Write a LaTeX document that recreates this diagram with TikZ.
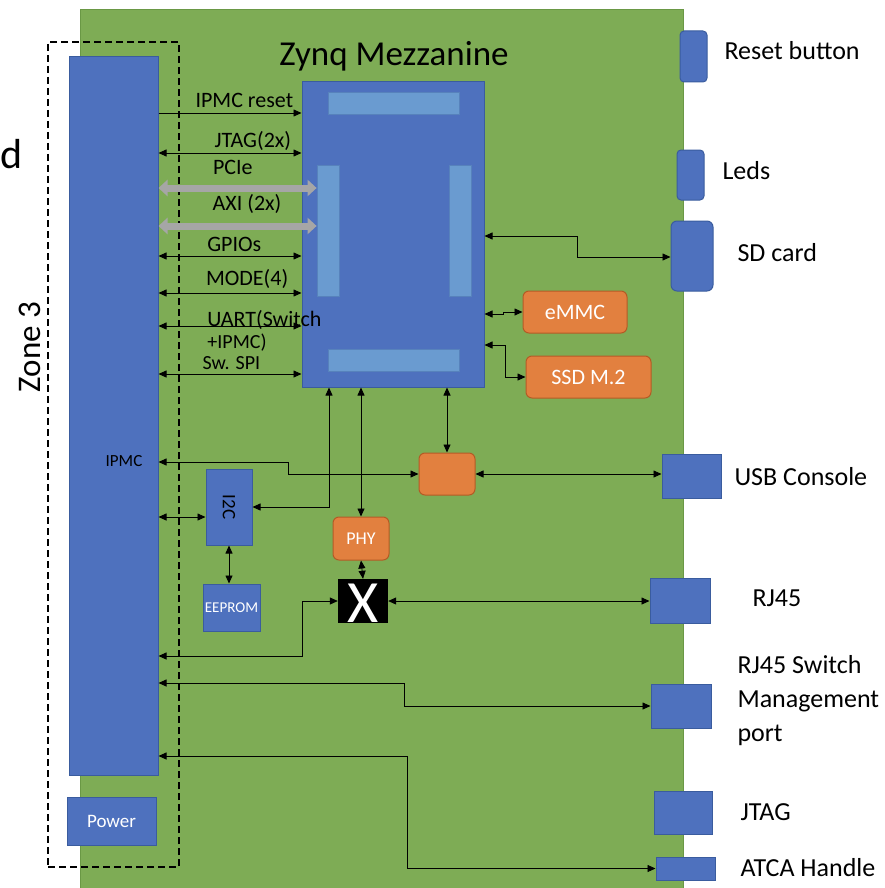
\documentclass[tikz,border=0pt]{standalone}
\usepackage{fontspec}
\setmainfont{Carlito}
\usetikzlibrary{arrows.meta,positioning,fit}
\definecolor{BoardGreen}{HTML}{7EAC55}
\definecolor{BoardEdge}{HTML}{6A9845}
\definecolor{BlockBlue}{HTML}{4E71BE}
\definecolor{BlockEdge}{HTML}{3A5C9E}
\definecolor{BankBlue}{HTML}{6A9BD0}
\definecolor{ChipOrange}{HTML}{E2803F}
\definecolor{ChipEdge}{HTML}{B45B25}
\definecolor{BusGray}{HTML}{A6A6A6}

\begin{document}
\begin{tikzpicture}[
  x=1pt,
  y=-1pt,
  font=\fontsize{22}{24}\selectfont,
  blk/.style={draw=BlockEdge, fill=BlockBlue, line width=1pt, inner sep=0pt},
  bank/.style={draw=BlockEdge!40!BankBlue, fill=BankBlue, line width=0.8pt, inner sep=0pt},
  chip/.style={draw=ChipEdge, fill=ChipOrange, line width=1pt, rounded corners=6pt, inner sep=0pt},
  portlbl/.style={anchor=west, font=\fontsize{26}{34}\selectfont, align=left},
  siglbl/.style={inner sep=0pt, text depth=0pt},
  sig/.style={{Triangle[length=8pt,width=7pt]}-{Triangle[length=8pt,width=7pt]}, line width=0.8pt},
  sigin/.style={-{Triangle[length=8pt,width=7pt]}, line width=0.8pt},
  bus/.style={{Triangle[length=9pt,width=16pt]}-{Triangle[length=9pt,width=16pt]}, line width=7pt, BusGray}
]
\useasboundingbox (0,0) rectangle (884,888);

% board and zone 3
\node[fill=BoardGreen, draw=BoardEdge, line width=1pt, inner sep=0pt, fit={(80,10) (683,895)}] (board) {};
\node[draw, dash pattern=on 7pt off 4pt, line width=1.2pt, inner sep=0pt, fit={(48,42) (179,867)}] (zone) {};
\node[rotate=90, font=\fontsize{33}{36}\selectfont] (zonelbl) at (30,347) {Zone 3};
\node[font=\fontsize{42}{44}\selectfont] (cutlbl) at (12,154) {d};

% IPMC side
\node[blk, fit={(69,57) (158,775)}] (ipmc) {};
\node[font=\fontsize{17}{20}\selectfont] (ipmclbl) at (124,461) {IPMC};
\node[blk, fit={(67,797) (156,845)}] (power) {};
\node[text=white, font=\fontsize{19}{22}\selectfont] (powerlbl) at (power) {Power};
\node[blk, fit={(206,469) (252,545)}] (i2c) {};
\node[rotate=-90, font=\fontsize{19}{22}\selectfont] (i2clbl) at (i2c) {I2C};
\node[blk, fit={(203,584) (260,631)}] (eeprom) {};
\node[text=white, font=\fontsize{15}{18}\selectfont] (eepromlbl) at (eeprom) {EEPROM};

% Zynq mezzanine
\node[font=\fontsize{35}{40}\selectfont] (title) at (394,56) {Zynq Mezzanine};
\node[blk, fit={(302,82) (484,387)}] (zynq) {};
\node[bank, fit={(328,92) (459,114)}] (banktop) {};
\node[bank, fit={(328,349) (459,371)}] (bankbot) {};
\node[bank, fit={(317,165) (339,296)}] (bankl) {};
\node[bank, fit={(449,165) (471,296)}] (bankr) {};

\node[chip, fit={(523,291) (627,333)}] (emmc) {};
\node[text=white] (emmclbl) at (emmc) {eMMC};
\node[chip, fit={(526,356) (651,398)}] (ssd) {};
\node[text=white] (ssdlbl) at (ssd) {SSD M.2};
\node[chip, fit={(419,453) (475,495)}] (bridge) {};
\node[chip, fit={(333,517) (389,560)}] (phy) {};
\node[text=white, font=\fontsize{18}{20}\selectfont] (phylbl) at (phy) {PHY};
\node[fill=black, inner sep=0pt, fit={(338,579) (388,623)}] (xsw) {};
\node[text=white, font=\fontsize{60}{60}\selectfont, inner sep=0pt] (xswlbl) at ([yshift=-2pt]xsw.center) {X};

% front panel
\node[blk, rounded corners=4pt, fit={(680,31) (707,82)}] (reset) {};
\node[blk, rounded corners=4pt, fit={(677,150) (704,200)}] (leds) {};
\node[blk, rounded corners=6pt, fit={(671,221) (713,291)}] (sdcard) {};
\node[blk, fit={(662,454) (721,498)}] (usb) {};
\node[blk, fit={(650,578) (710,623)}] (rj45) {};
\node[blk, fit={(651,684) (711,728)}] (mgmt) {};
\node[blk, fit={(654,791) (712,834)}] (jtag) {};
\node[blk, fit={(656,857) (715,880)}] (atca) {};

\node[portlbl] (resetlbl) at (721,51) {Reset button};
\node[portlbl] (ledslbl) at (719,171) {Leds};
\node[portlbl] (sdlbl) at (734,253) {SD card};
\node[portlbl] (usblbl) at (731,477) {USB Console};
\node[portlbl] (rj45lbl) at (749,598) {RJ45};
\node[portlbl] (mgmtlbl) at (734,701) {RJ45 Switch\\Management\\port};
\node[portlbl] (jtaglbl) at (737,812) {JTAG};
\node[portlbl] (atcalbl) at (737,868) {ATCA Handle};

% IPMC <-> Zynq
\draw[sigin] (ipmc.east |- 0,113) -- node[siglbl, above=5pt, pos=0.6] (rstlbl) {IPMC reset} (zynq.west |- 0,113);
\foreach \y/\lab/\p/\dy [count=\i] in {153/JTAG(2x)/0.66/5pt, 256/GPIOs/0.53/4pt, 293/MODE(4)/0.62/7pt, 326/UART(Switch/0.74/-1pt}
  \draw[sig] (ipmc.east |- 0,\y) -- node[siglbl, above=\dy, pos=\p] (sig\i) {\lab} (zynq.west |- 0,\y);
\node[siglbl, font=\fontsize{20}{22}\selectfont] (uartlbl) at (237,341) {+IPMC)};
\draw[sig] (ipmc.east |- 0,374) -- node[siglbl, above=4pt, pos=0.51, font=\fontsize{20}{22}\selectfont] (spilbl) {Sw. SPI} (zynq.west |- 0,374);
\foreach \y/\lab/\p/\dy [count=\i] in {188/PCIe/0.47/10pt, 226/AXI (2x)/0.56/12pt}
  \draw[bus] (ipmc.east |- 0,\y) -- node[siglbl, above=\dy, pos=\p, black] (bus\i) {\lab} (bankl.west |- 0,\y);

% Zynq right side
\draw[sig] (zynq.east |- 0,236) -| (577,257) -- (sdcard.west |- 0,257);
\draw[sig] (zynq.east |- 0,314) -- (503,314) |- (emmc.west);
\draw[sig] (zynq.east |- 0,345) -- (505,345) |- (ssd.west);

% Zynq bottom side
\draw[sig] (zynq.south -| 329,0) |- (i2c.east);
\draw[sig] (phy.north |- zynq.south) -- (phy.north);
\draw[sig] (bridge.north |- zynq.south) -- (bridge.north);
\draw[sig] (ipmc.east |- 0,462) -- (288,462) |- (bridge.west);
\draw[sig] (bridge.east) -- (usb.west |- bridge.east);
\draw[sig] (ipmc.east |- 0,517) -- (i2c.west |- 0,517);
\draw[sig] (i2c.south) -- (i2c.south |- eeprom.north);
\draw[sig] (phy.south) -- (xsw.north);
\draw[sig] (ipmc.east |- 0,656) -- (302,656) |- (xsw.west);
\draw[sig] (xsw.east) -- (rj45.west |- xsw.east);
\draw[sig] (ipmc.east |- 0,683) -- (404,683) |- (mgmt.west);
\draw[sig] (ipmc.east |- 0,756) -- (407,756) |- (atca.west);
\end{tikzpicture}
\end{document}
